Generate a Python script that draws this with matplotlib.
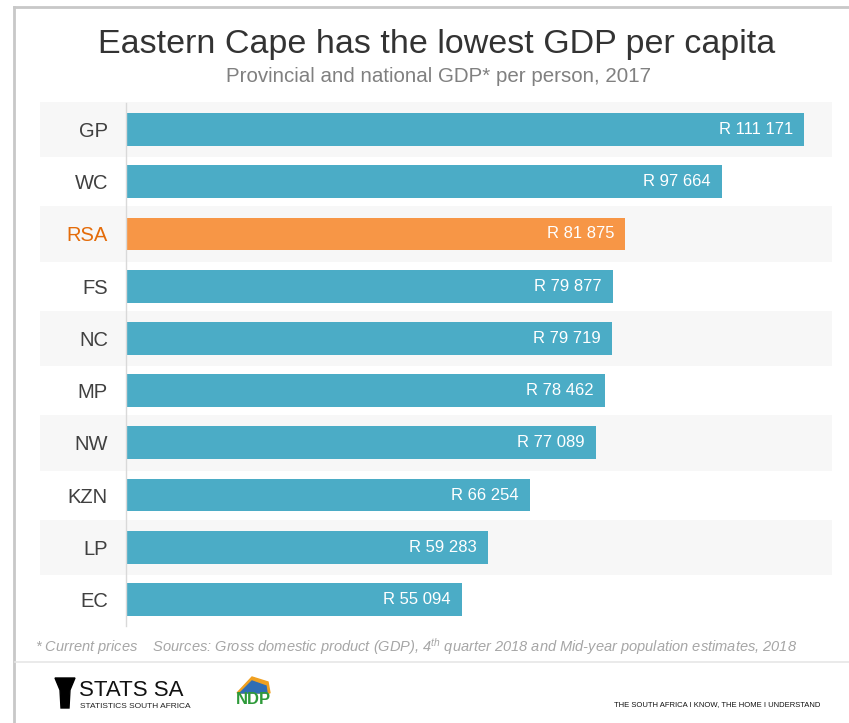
import matplotlib.pyplot as plt
from matplotlib.patches import Polygon
from matplotlib.lines import Line2D
import numpy as np

plt.rcParams['font.family'] = ['Liberation Sans', 'DejaVu Sans']
plt.rcParams['mathtext.fontset'] = 'custom'
plt.rcParams['mathtext.it'] = 'Liberation Sans:italic'
plt.rcParams['mathtext.rm'] = 'Liberation Sans:italic'

regions = ['GP', 'WC', 'RSA', 'FS', 'NC', 'MP', 'NW', 'KZN', 'LP', 'EC']
gdp = [111171, 97664, 81875, 79877, 79719, 78462, 77089, 66254, 59283, 55094]
highlight = 'RSA'

blue = '#4bacc6'
orange = '#f79646'
W, H = 849, 723

fig = plt.figure(figsize=(W / 100, H / 100), dpi=100)
fig.patch.set_facecolor('white')

# axes placed in pixel terms
left, right, top, bottom = 126, 832, 103.4, 625.6
ax = fig.add_axes([left / W, 1 - bottom / H, (right - left) / W, (bottom - top) / H])
ax.set_facecolor('none')

y = np.arange(len(regions))
colors = [orange if r == highlight else blue for r in regions]

# alternating background bands
band_x0 = -(left - 40) / (right - left)
for i in y:
    if i % 2 == 0:
        ax.axhspan(i - 0.53, i + 0.53, xmin=band_x0, xmax=1, color='#f7f7f7',
                   zorder=0, clip_on=False, lw=0)

bars = ax.barh(y, gdp, height=0.63, color=colors, zorder=2)
for b, v in zip(bars, gdp):
    s = 'R ' + f'{v:,}'.replace(',', ' ')
    ax.annotate(s, (v, b.get_y() + b.get_height() / 2), xytext=(-8, 0),
                textcoords='offset points', ha='right', va='center',
                color='white', fontsize=12, zorder=3)

xmax = 111171 * (right - left) / (804 - left)
ax.set_xlim(0, xmax)
ax.set_ylim(len(regions) - 0.5, -0.5)
ax.set_yticks(y, regions)
ax.set_xticks([])
ax.tick_params(axis='y', length=0, pad=13, labelsize=14.5, labelcolor='#404040')
for lbl in ax.get_yticklabels():
    if lbl.get_text() == highlight:
        lbl.set_color('#e46c0a')
for side in ['top', 'right', 'bottom']:
    ax.spines[side].set_visible(False)
ax.spines['left'].set_color('#d9d9d9')
ax.spines['left'].set_linewidth(1)

# titles
fig.text(437 / W, 1 - 45 / H, 'Eastern Cape has the lowest GDP per capita',
         ha='center', va='center', fontsize=24.5, color='#333333')
fig.text(438 / W, 1 - 76 / H, 'Provincial and national GDP* per person, 2017',
         ha='center', va='center', fontsize=14.8, color='#808080')

# footnote
fig.text(35 / W, 1 - 647 / H,
         '* Current prices    Sources: Gross domestic product (GDP), 4$^{th}$ quarter 2018 '
         'and Mid-year population estimates, 2018',
         ha='left', va='center', fontsize=10.5, style='italic', color='#a6a6a6')

# frame lines
lc = '#c8c8c8'
fig.add_artist(Line2D([14 / W, 1], [1 - 7 / H, 1 - 7 / H], color=lc, lw=2))
fig.add_artist(Line2D([14 / W, 14 / W], [1 - 7 / H, 0], color=lc, lw=2))
fig.add_artist(Line2D([15 / W, 1], [1 - 662 / H, 1 - 662 / H], color='#e6e6e6', lw=1.2))

# Stats SA logo (rough)
logo = Polygon([[55 / W, 1 - 678 / H], [75 / W, 1 - 678 / H], [70 / W, 1 - 690 / H],
                [69 / W, 1 - 708 / H], [61 / W, 1 - 708 / H], [60 / W, 1 - 690 / H]],
               closed=True, color='black', transform=fig.transFigure)
fig.add_artist(logo)
fig.text(79 / W, 1 - 690 / H, 'STATS SA', ha='left', va='center', fontsize=16,
         color='#111111')
fig.text(80 / W, 1 - 706 / H, 'STATISTICS SOUTH AFRICA', ha='left', va='center',
         fontsize=6, color='#222222')

# NDP logo (rough)
fig.add_artist(Polygon([[237 / W, 1 - 693 / H], [252 / W, 1 - 677 / H], [268 / W, 1 - 682 / H],
                        [270 / W, 1 - 693 / H]], closed=True, color='#f0a020',
                       transform=fig.transFigure))
fig.add_artist(Polygon([[240 / W, 1 - 693 / H], [252 / W, 1 - 681 / H], [266 / W, 1 - 686 / H],
                        [267 / W, 1 - 693 / H]], closed=True, color='#2f6db5',
                       transform=fig.transFigure))
fig.text(253 / W, 1 - 700 / H, 'NDP', ha='center', va='center', fontsize=12,
         fontweight='bold', color='#2e9a3a')

fig.text(820 / W, 1 - 705 / H, 'THE SOUTH AFRICA I KNOW, THE HOME I UNDERSTAND',
         ha='right', va='center', fontsize=5.5, color='#111111')

fig.savefig('out.png', dpi=100)
